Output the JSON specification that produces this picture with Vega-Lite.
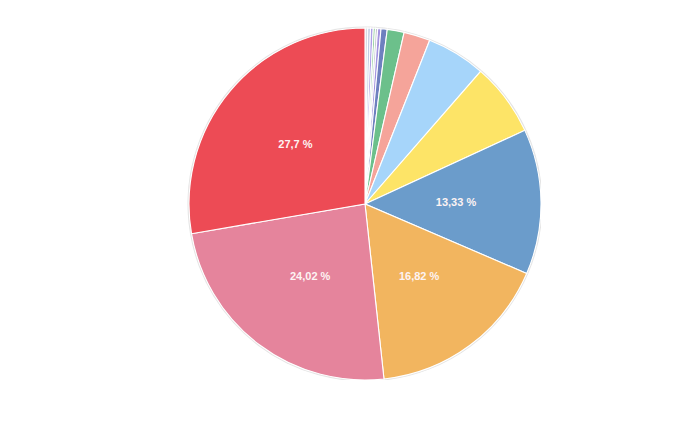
{
  "$schema": "https://vega.github.io/schema/vega-lite/v6.json",
  "width": 352,
  "height": 352,
  "autosize": "none",
  "padding": {"left": 189, "top": 28, "right": 0, "bottom": 0},
  "background": "white",
  "view": {"stroke": null},
  "data": {
    "values": [
      {"i": 1, "name": "A", "value": 0.25, "label": ""},
      {"i": 2, "name": "B", "value": 0.25, "label": ""},
      {"i": 3, "name": "C", "value": 0.25, "label": ""},
      {"i": 4, "name": "D", "value": 0.2, "label": ""},
      {"i": 5, "name": "E", "value": 0.2, "label": ""},
      {"i": 6, "name": "F", "value": 0.3, "label": ""},
      {"i": 7, "name": "G", "value": 0.57, "label": ""},
      {"i": 8, "name": "H", "value": 1.55, "label": ""},
      {"i": 9, "name": "I", "value": 2.42, "label": ""},
      {"i": 10, "name": "J", "value": 5.42, "label": ""},
      {"i": 11, "name": "K", "value": 6.72, "label": ""},
      {"i": 12, "name": "L", "value": 13.33, "label": "13,33 %"},
      {"i": 13, "name": "M", "value": 16.82, "label": "16,82 %"},
      {"i": 14, "name": "N", "value": 24.02, "label": "24,02 %"},
      {"i": 15, "name": "O", "value": 27.7, "label": "27,7 %"}
    ]
  },
  "encoding": {
    "theta": {"field": "value", "type": "quantitative", "stack": true},
    "order": {"field": "i", "type": "quantitative"}
  },
  "layer": [
    {
      "mark": {"type": "arc", "outerRadius": 177.5, "fill": "#e4e4e4"},
      "encoding": {}
    },
    {
      "mark": {"type": "arc", "outerRadius": 176, "stroke": "white", "strokeWidth": 1.1},
      "encoding": {
        "color": {
          "field": "name",
          "type": "nominal",
          "legend": null,
          "scale": {
            "domain": ["A","B","C","D","E","F","G","H","I","J","K","L","M","N","O"],
            "range": ["#d9dce4","#c2cde3","#ae9fe6","#93cf9e","#c2c6cf","#a394df","#6e80bf","#6cc08b","#f5a49a","#a6d5fa","#fde467","#6b9ccb","#f2b55f","#e5849c","#ed4b55"]
          }
        }
      }
    },
    {
      "mark": {"type": "text", "radius": 91, "font": "Liberation Sans", "fontWeight": "bold", "fontSize": 11, "fill": "#fdf3f3", "align": "center", "baseline": "middle"},
      "encoding": {
        "text": {"field": "label", "type": "nominal"}
      }
    }
  ]
}
